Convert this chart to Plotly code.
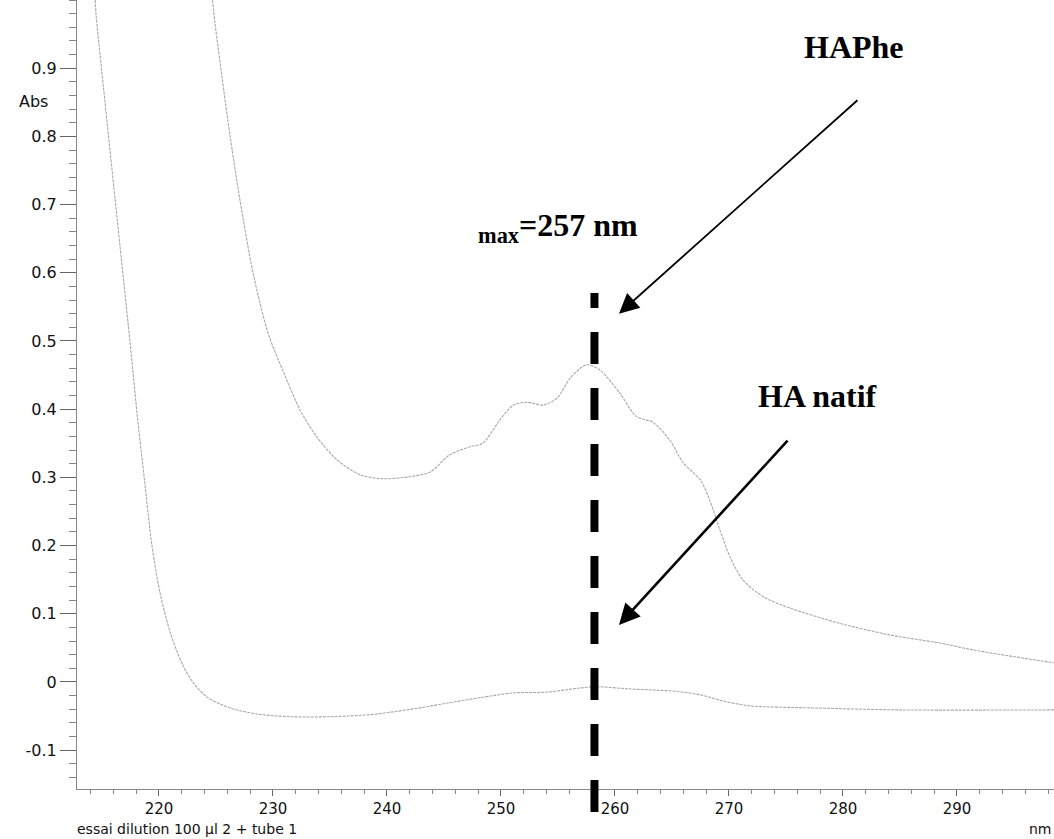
import plotly.graph_objects as go

# HA natif (lower spectrum)
natif_nm = [214.4, 214.5, 215.25, 216.2, 217.45, 218.1, 218.7, 219.4, 220.1, 221.0, 222.0, 223.0,
            224.2, 226.2, 228.6, 231.5, 235.0, 238.5, 240.9, 242.9, 245.3, 248.2, 251.1, 254.0,
            256.9, 258.4, 261.1, 263.5, 265.5, 267.5, 269.5, 271.8, 277.1, 285.0, 298.5]
natif_abs = [1.0, 0.975, 0.853, 0.70, 0.50, 0.39, 0.30, 0.198, 0.13, 0.072, 0.028, -0.001,
             -0.022, -0.038, -0.047, -0.051, -0.051, -0.048, -0.043, -0.038, -0.031, -0.023, -0.016, -0.015,
             -0.009, -0.007, -0.010, -0.012, -0.014, -0.019, -0.028, -0.035, -0.038, -0.041, -0.041]

# HAPhe (upper spectrum)
haphe_nm = [224.7, 224.9, 226.2, 227.1, 228.25, 229.56, 230.96, 232.37, 233.86, 235.6, 237.6,
            239.6, 242.0, 243.8, 245.5, 247.3, 248.4, 249.9, 251.1, 252.3, 253.7, 254.9, 256.1,
            257.5, 258.7, 260.4, 261.9, 263.3, 264.8, 266.0, 267.5, 268.3, 269.2, 270.1, 271.2,
            273.0, 275.4, 279.7, 284.1, 288.5, 291.4, 298.5]
haphe_abs = [1.0, 0.968, 0.805, 0.707, 0.600, 0.512, 0.453, 0.399, 0.359, 0.326, 0.304,
             0.298, 0.301, 0.308, 0.333, 0.345, 0.35, 0.384, 0.406, 0.41, 0.406, 0.416, 0.446,
             0.465, 0.457, 0.424, 0.389, 0.381, 0.355, 0.321, 0.296, 0.267, 0.223, 0.183, 0.15,
             0.125, 0.108, 0.086, 0.069, 0.057, 0.047, 0.028]

lambda_max = 258.2
y_tick_vals = [-0.1, 0, 0.1, 0.2, 0.3, 0.4, 0.5, 0.6, 0.7, 0.8, 0.9]
y_tick_text = ["-0.1", "0", "0.1", "0.2", "0.3", "0.4", "0.5", "0.6", "0.7", "0.8", "0.9"]
x_tick_vals = [220, 230, 240, 250, 260, 270, 280, 290]
x_tick_text = ["220", "230", "240", "250", "260", "270", "280", "290"]

axis_font = dict(family="DejaVu Sans", size=16, color="#111")
xtick_font = dict(family="DejaVu Sans", size=15, color="#111")
title_font = dict(family="DejaVu Sans", size=14, color="#111")
label_font = dict(family="Liberation Serif", size=32, color="black")
curve_line = dict(color="#a8a8a8", width=1.1, dash="3px,1px")

fig = go.Figure()
fig.add_trace(go.Scatter(x=natif_nm, y=natif_abs, mode="lines", name="HA natif",
                         line=dict(curve_line, shape="spline", smoothing=0.8)))
fig.add_trace(go.Scatter(x=haphe_nm, y=haphe_abs, mode="lines", name="HAPhe",
                         line=dict(curve_line, shape="spline", smoothing=0.8)))

fig.add_shape(type="line", xref="x", yref="paper", x0=lambda_max, x1=lambda_max,
              y0=-0.029, y1=0.6286, line=dict(color="black", width=8, dash="32px,24px"))

annotations = [
    dict(x=280.96, y=0.931, xref="x", yref="y", text="<b>HAPhe</b>", showarrow=False, font=label_font),
    dict(x=277.8, y=0.419, xref="x", yref="y", text="<b>HA natif</b>", showarrow=False, font=label_font),
    dict(x=255.0, y=0.667, xref="x", yref="y", text="<b><sub>max</sub>=257 nm</b>", showarrow=False,
         font=label_font),
    dict(x=260.35, y=0.540, ax=281.4, ay=0.855, xref="x", yref="y", axref="x", ayref="y", text="",
         showarrow=True, arrowhead=2, arrowsize=2.2, arrowwidth=1.8, arrowcolor="black", standoff=0),
    dict(x=260.35, y=0.0836, ax=275.26, ay=0.356, xref="x", yref="y", axref="x", ayref="y", text="",
         showarrow=True, arrowhead=2, arrowsize=1.6, arrowwidth=2.6, arrowcolor="black", standoff=0),
    dict(x=-0.045, y=0.871, xref="paper", yref="paper", text="Abs", showarrow=False,
         xanchor="center", yanchor="middle", font=axis_font),
    dict(x=-0.002, y=-50 / 789, xref="paper", yref="paper", text="essai dilution 100 µl 2 + tube 1",
         showarrow=False, xanchor="left", yanchor="bottom", font=title_font),
    dict(x=1.0, y=-50 / 789, xref="paper", yref="paper", text="nm",
         showarrow=False, xanchor="right", yanchor="bottom", font=title_font),
]
fig.update_layout(annotations=annotations)

fig.update_xaxes(range=[212.81, 298.51], tickvals=x_tick_vals, ticktext=x_tick_text,
                 ticks="outside", ticklen=6, tickcolor="#666", tickwidth=1,
                 minor=dict(dtick=2, tick0=210, ticks="outside", ticklen=4, tickcolor="#888"),
                 showline=True, linecolor="#888", linewidth=1, showgrid=False, zeroline=False,
                 tickfont=xtick_font)
fig.update_yaxes(range=[-0.157, 1.0], tickvals=y_tick_vals, ticktext=y_tick_text,
                 ticks="outside", ticklen=16, tickcolor="#666", tickwidth=1,
                 minor=dict(dtick=0.02, tick0=0, ticks="outside", ticklen=7, tickcolor="#888"),
                 showline=True, linecolor="#888", linewidth=1, showgrid=False, zeroline=False,
                 tickfont=axis_font)

fig.update_layout(width=1054, height=839, margin=dict(l=77, r=0, t=0, b=50),
                  plot_bgcolor="white", paper_bgcolor="white", showlegend=False)

fig.write_html("out.html", config={"displayModeBar": False},
               post_script="document.body.style.margin='0px';")
